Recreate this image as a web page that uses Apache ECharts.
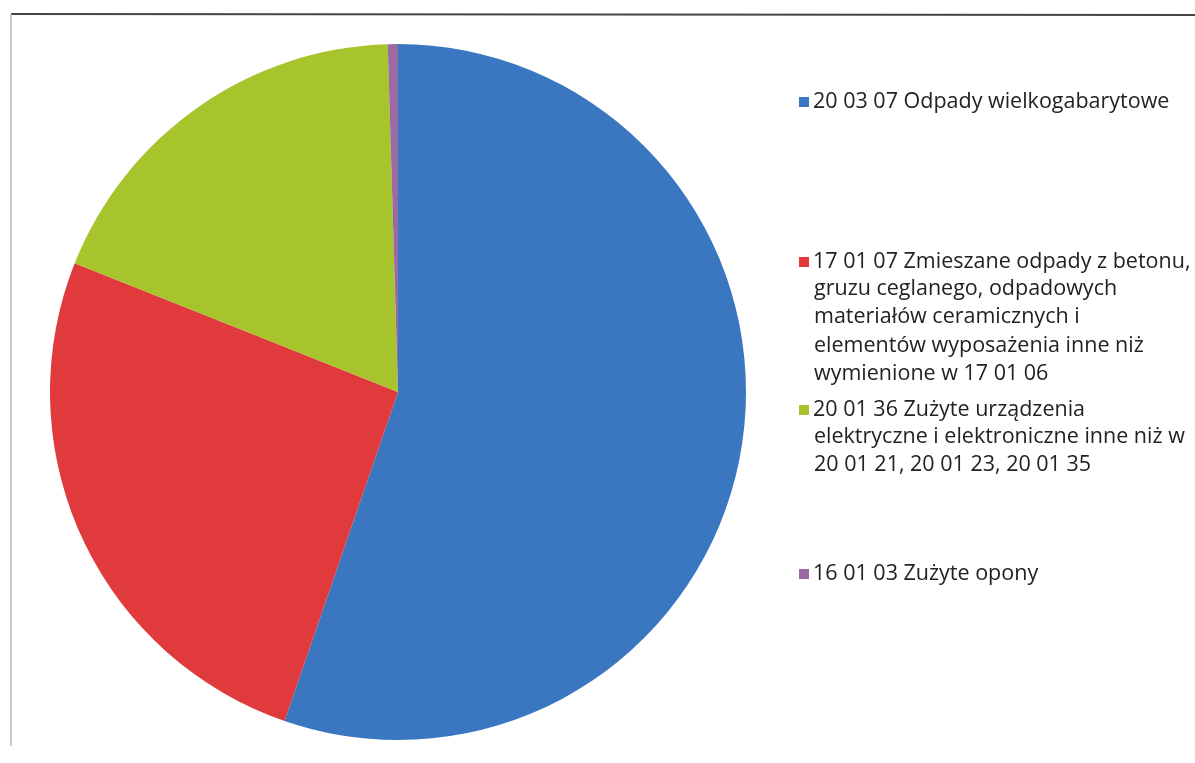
<!DOCTYPE html>
<html>
<head>
<meta charset="utf-8">
<script src="https://cdn.jsdelivr.net/npm/echarts@6/dist/echarts.min.js"></script>
<style>
  html, body { margin: 0; padding: 0; background: #fff; }
  #chart { width: 1195px; height: 763px; }
</style>
</head>
<body>
<div id="chart"></div>
<script>
// waste categories, clockwise from 12 o'clock
const names = [
  '20 03 07 Odpady wielkogabarytowe',
  '17 01 07 Zmieszane odpady z betonu, gruzu ceglanego, odpadowych materiałów ceramicznych i elementów wyposażenia inne niż wymienione w 17 01 06',
  '20 01 36 Zużyte urządzenia elektryczne i elektroniczne inne niż w 20 01 21, 20 01 23, 20 01 35',
  '16 01 03 Zużyte opony'
]
// legend text as it wraps in the picture
const legendLines = [
  ['20 03 07 Odpady wielkogabarytowe'],
  ['17 01 07 Zmieszane odpady z betonu,', 'gruzu ceglanego, odpadowych', 'materiałów ceramicznych i', 'elementów wyposażenia inne niż', 'wymienione w 17 01 06'],
  ['20 01 36 Zużyte urządzenia', 'elektryczne i elektroniczne inne niż w', '20 01 21, 20 01 23, 20 01 35'],
  ['16 01 03 Zużyte opony']
]
// shares in percent
const shares = [55.3, 25.75, 18.5, 0.47]
const colors = ['#3b77c1', '#e03a3c', '#a8c42c', '#9a6ba2']
const lineCenters = [100, 260, 408, 572]
const lineStep = 28.5
const font = { fontFamily: 'Open Sans', fontSize: 21.5, color: '#222' }

const chart = echarts.init(document.getElementById('chart'))

// legend only carries the first line so the square sits beside it
const legends = names.map((n, i) => ({
  data: [n],
  left: 799,
  top: lineCenters[i] - 9,
  icon: 'rect',
  itemWidth: 10,
  itemHeight: 10,
  selectedMode: false,
  padding: 0,
  formatter: () => legendLines[i][0],
  textStyle: Object.assign({ padding: [0, 0, 0, -1] }, font)
}))

// continuation lines of the wrapped legend entries
const extraLines = []
legendLines.forEach((lines, i) => {
  lines.slice(1).forEach((t, k) => {
    extraLines.push({
      type: 'text',
      x: 814,
      y: lineCenters[i] + (k + 1) * lineStep,
      style: { text: t, textVerticalAlign: 'middle', fill: font.color, font: font.fontSize + 'px "' + font.fontFamily + '"' }
    })
  })
})

chart.setOption({
  animation: false,
  color: colors,
  legend: legends,
  graphic: [
    { type: 'line', shape: { x1: 11, y1: 14, x2: 1195, y2: 15 }, style: { stroke: '#444', lineWidth: 2 } },
    { type: 'line', shape: { x1: 11, y1: 14, x2: 11, y2: 746 }, style: { stroke: '#bbb', lineWidth: 1.5 } }
  ].concat(extraLines),
  series: [
    {
      type: 'pie',
      center: [398, 392],
      radius: 348,
      startAngle: 90,
      clockwise: true,
      label: { show: false },
      labelLine: { show: false },
      itemStyle: { borderWidth: 0 },
      emphasis: { disabled: true },
      data: names.map((n, i) => ({ name: n, value: shares[i] }))
    }
  ]
})
</script>
</body>
</html>
